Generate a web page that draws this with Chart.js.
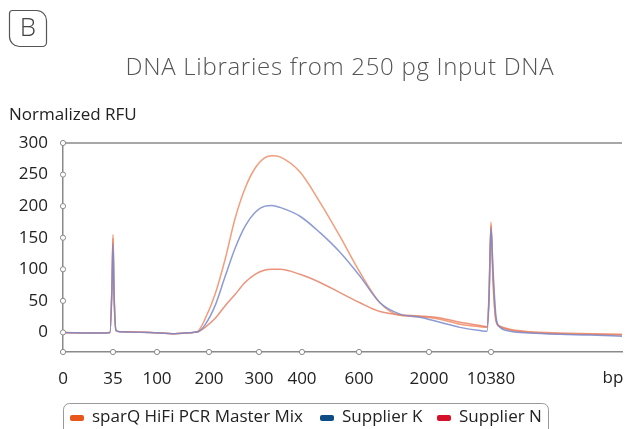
<!DOCTYPE html>
<html>
<head>
    <title>DNA Libraries from 250 pg Input DNA</title>
    <script src="https://cdn.jsdelivr.net/npm/chart.js"></script>
    <style>
        body { margin: 0; background: #fff; }
        #wrap { width: 627px; height: 429px; }
    </style>
</head>
<body>
<div id="wrap"><canvas id="myChart" width="627" height="429"></canvas></div>
<script>
// x positions along the (non linear) bp ladder
var xPos = [0, 37, 47, 49, 50, 51, 53, 57, 87, 112, 122, 130, 135, 142, 152, 162, 172, 182, 192, 202, 209, 217, 237, 257, 277, 297, 317, 337, 357, 377, 397, 417, 424, 426, 428, 430, 433, 437, 447, 467, 497, 527, 559];
var sparq = [0, -1, 0, 80, 155, 70, 3, 1, 0, -2, -1, 0, 2, 21, 60, 115, 180, 228, 260, 277, 280, 278, 254, 206, 152, 95, 47, 27, 25, 21, 13, 9, 8, 60, 175, 90, 20, 10, 5, 1, -1, -2, -3];
var supplierK = [0, -1, 0, 70, 140, 60, 3, 1, 0, -2, -1, 0, 1, 12, 42, 88, 133, 168, 190, 200, 201, 198, 184, 158, 127, 89, 47, 29, 24, 16, 8, 3, 2, 50, 165, 100, 25, 8, 2, -1, -3, -4, -6];
var supplierN = [0, -1, 0, 75, 150, 65, 3, 1, 0, -2, -1, 0, 1, 8, 22, 42, 60, 79, 92, 99, 100, 100, 92, 79, 63, 47, 33, 28, 26, 23, 16, 11, 9, 55, 170, 80, 18, 9, 4, 0, -2, -3, -4];

var seriesNames = ['sparQ HiFi PCR Master Mix', 'Supplier K', 'Supplier N'];
var xTickPos = [0, 50, 94, 146, 196, 239, 296, 366, 428];
var xTickLabels = ['0', '35', '100', '200', '300', '400', '600', '2000', '10380'];
var yTicks = [0, 50, 100, 150, 200, 250, 300];

var lineColors = ['rgba(240,140,100,0.85)', 'rgba(120,138,205,0.85)', 'rgba(232,128,100,0.85)'];
var legendColors = ['#e8561c', '#0d4c84', '#d7102a'];
var FONT = '"Open Sans", "Noto Sans", sans-serif';

function pts(vals) {
    return xPos.map(function(x, i) { return { x: x, y: vals[i] }; });
}

// title, panel letter, top line, tick circles and legend box
var decor = {
    id: 'decor',
    afterDraw: function(chart) {
        var ctx = chart.ctx;
        var a = chart.chartArea;
        var xs = chart.scales.x, ys = chart.scales.y;
        ctx.save();

        // panel letter
        ctx.strokeStyle = '#555';
        ctx.lineWidth = 1.2;
        ctx.beginPath();
        ctx.roundRect(9.5, 10.5, 37, 36, [3, 10, 4, 10]);
        ctx.stroke();
        ctx.fillStyle = '#444';
        ctx.font = '300 26px ' + FONT;
        ctx.textAlign = 'center';
        ctx.textBaseline = 'middle';
        ctx.fillText('B', 28, 29);

        // title
        ctx.fillStyle = '#555';
        ctx.font = '300 24px ' + FONT;
        ctx.letterSpacing = '0.7px';
        ctx.fillText('DNA Libraries from 250 pg Input DNA', 340, 68);
        ctx.letterSpacing = '0px';

        // y axis name
        ctx.fillStyle = '#222';
        ctx.font = '17px ' + FONT;
        ctx.textAlign = 'left';
        ctx.fillText('Normalized RFU', 9, 115);

        // bp unit
        ctx.textAlign = 'center';
        ctx.fillText('bp', 613, 378);

        // top frame line
        ctx.strokeStyle = '#8a8a8a';
        ctx.lineWidth = 1.5;
        ctx.beginPath();
        ctx.moveTo(a.left, a.top);
        ctx.lineTo(a.right, a.top);
        ctx.stroke();

        // circles on the ticks
        ctx.fillStyle = '#fff';
        ctx.lineWidth = 1;
        function dot(x, y) {
            ctx.beginPath();
            ctx.arc(x, y, 2.6, 0, Math.PI * 2);
            ctx.fill();
            ctx.stroke();
        }
        yTicks.forEach(function(v) { dot(a.left, ys.getPixelForValue(v)); });
        xTickPos.forEach(function(v) { dot(xs.getPixelForValue(v), a.bottom); });

        // legend
        ctx.strokeStyle = '#999';
        ctx.beginPath();
        ctx.roundRect(63.5, 403.5, 485, 40, 6);
        ctx.stroke();
        var lx = [70, 320, 437];
        ctx.font = '17px ' + FONT;
        ctx.textAlign = 'left';
        ctx.textBaseline = 'middle';
        for (var i = 0; i < seriesNames.length; i++) {
            ctx.fillStyle = legendColors[i];
            ctx.beginPath();
            ctx.roundRect(lx[i], 415, 14, 6, 2);
            ctx.fill();
            ctx.fillStyle = '#222';
            ctx.fillText(seriesNames[i], lx[i] + 22, 417);
        }
        ctx.restore();
    }
};

var ctx = document.getElementById('myChart').getContext('2d');
var myChart = new Chart(ctx, {
    type: 'line',
    data: {
        datasets: [
            { label: seriesNames[1], data: pts(supplierK), borderColor: lineColors[1] },
            { label: seriesNames[2], data: pts(supplierN), borderColor: lineColors[2] },
            { label: seriesNames[0], data: pts(sparq), borderColor: lineColors[0] }
        ].map(function(d) {
            d.borderWidth = 1.5;
            d.pointRadius = 0;
            d.fill = false;
            d.cubicInterpolationMode = 'monotone';
            return d;
        })
    },
    options: {
        responsive: false,
        animation: false,
        layout: { padding: { left: 0, top: 143, right: 5, bottom: 0 } },
        plugins: {
            legend: { display: false },
            title: { display: false },
            tooltip: { enabled: false }
        },
        scales: {
            x: {
                type: 'linear',
                min: 0,
                max: 559,
                grid: { display: false },
                border: { display: true, color: '#8a8a8a', width: 1.5 },
                afterBuildTicks: function(s) { s.ticks = xTickPos.map(function(v) { return { value: v }; }); },
                afterFit: function(s) { s.height = 77; },
                ticks: {
                    autoSkip: false,
                    maxRotation: 0,
                    padding: 9,
                    color: '#222',
                    font: { family: FONT, size: 17 },
                    callback: function(v) { return xTickLabels[xTickPos.indexOf(v)]; }
                }
            },
            y: {
                min: -31,
                max: 300,
                grid: { display: false },
                border: { display: true, color: '#8a8a8a', width: 1.5 },
                afterBuildTicks: function(s) { s.ticks = yTicks.map(function(v) { return { value: v }; }); },
                afterFit: function(s) { s.width = 63; },
                ticks: {
                    padding: 7,
                    color: '#222',
                    font: { family: FONT, size: 17 }
                }
            }
        }
    },
    plugins: [decor]
});
</script>
</body>
</html>
